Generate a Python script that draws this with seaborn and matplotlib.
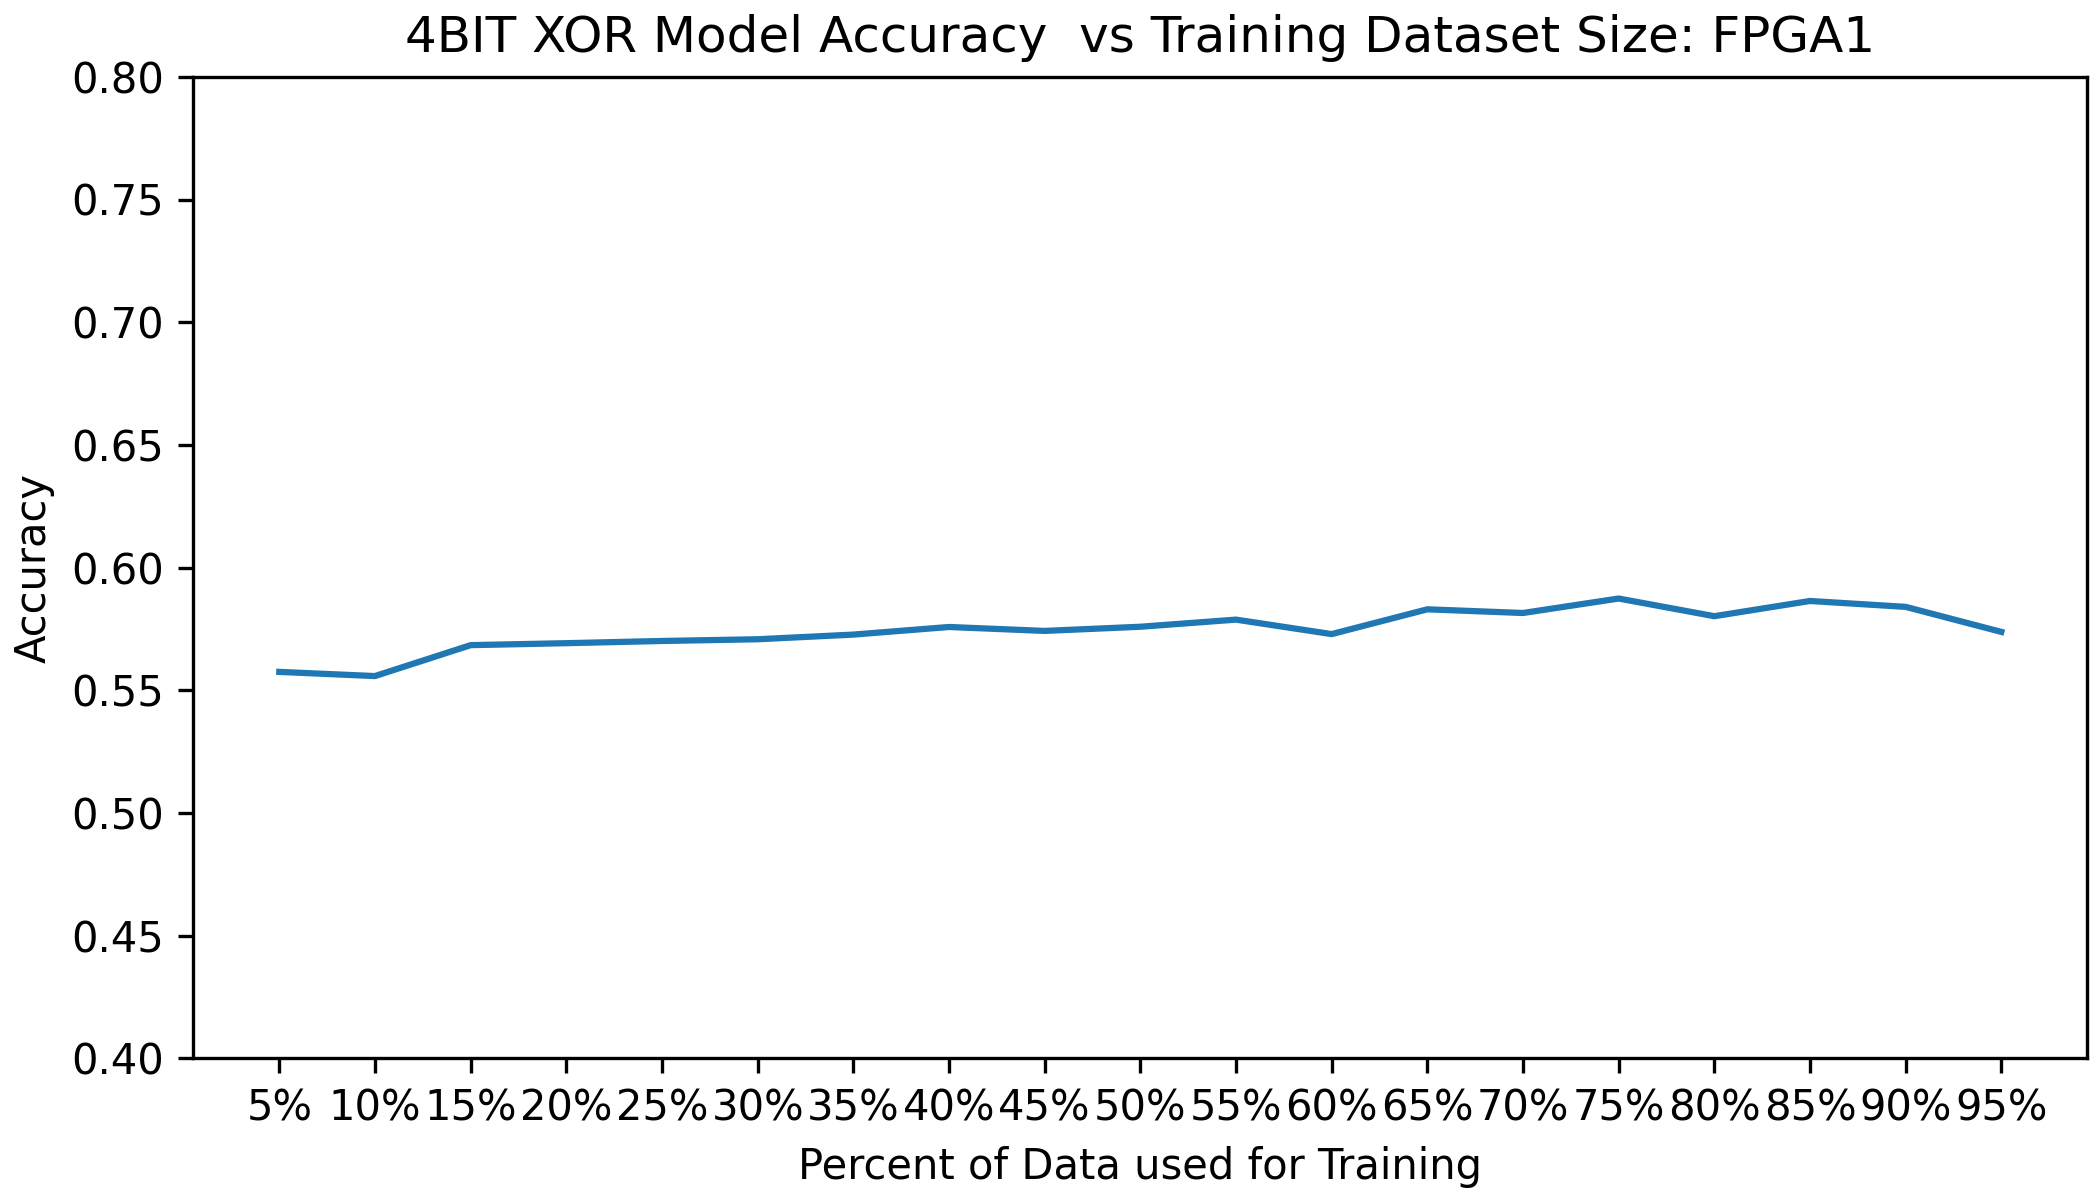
import pandas as pd
import matplotlib
matplotlib.use('Agg')
import matplotlib.pyplot as plt
import seaborn as sns

# training split sizes and the accuracy read for each
percents = ['5%', '10%', '15%', '20%', '25%', '30%', '35%', '40%', '45%', '50%',
            '55%', '60%', '65%', '70%', '75%', '80%', '85%', '90%', '95%']
accuracy = [0.5575, 0.5558, 0.5684, 0.5692, 0.5701, 0.5708, 0.5727, 0.5758, 0.5742, 0.5759,
            0.5788, 0.5729, 0.5830, 0.5815, 0.5874, 0.5802, 0.5864, 0.5840, 0.5738]

df = pd.DataFrame({'Percent': percents, 'Accuracy': accuracy})

fig, ax = plt.subplots(figsize=(7, 4), dpi=300)
sns.lineplot(data=df, x='Percent', y='Accuracy', ax=ax, color='#1f77b4', linewidth=1.5, sort=False)

ax.set_ylim(0.4, 0.8)
ax.set_title('4BIT XOR Model Accuracy  vs Training Dataset Size: FPGA1')
ax.set_xlabel('Percent of Data used for Training')
ax.set_ylabel('Accuracy')

plt.subplots_adjust(left=0.092, right=0.994, top=0.936, bottom=0.118)
plt.savefig('out.png', dpi=300)
